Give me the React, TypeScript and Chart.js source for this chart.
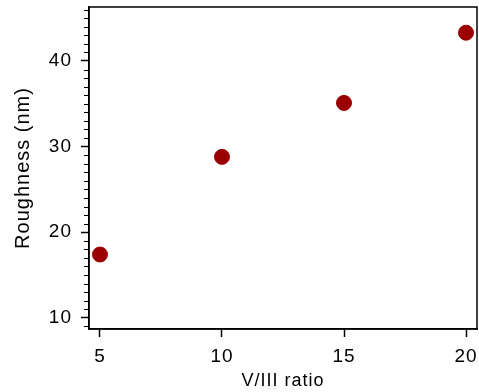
import React, { useEffect, useRef } from "react";
import { Chart, registerables } from "chart.js";

Chart.register(...registerables);

const ratios = [5, 10, 15, 20];
const roughness = [17.4, 28.8, 35.1, 43.3];
const xTicks = [5, 10, 15, 20];
const yTicks = [10, 20, 30, 40];
const yMinorTicks = [9, 11, 12, 13, 14, 15, 16, 17, 18, 19, 21, 22, 23, 24, 25, 26, 27, 28, 29, 31, 32, 33, 34, 35, 36, 37, 38, 39, 41, 42, 43, 44, 45, 46];

const FONT = "'Liberation Sans', Arial, Helvetica, sans-serif";

const spacing = {
  id: "spacing",
  beforeLayout(chart: any) {
    chart.ctx.letterSpacing = "1px";
  },
  beforeDraw(chart: any) {
    chart.ctx.letterSpacing = "1px";
  },
};

const frame = {
  id: "frame",
  afterDraw(chart: any) {
    const { ctx, chartArea } = chart;
    const ys = chart.scales.y;
    ctx.save();
    ctx.strokeStyle = "#000";
    ctx.lineWidth = 1.5;
    ctx.strokeRect(chartArea.left, chartArea.top, chartArea.right - chartArea.left, chartArea.bottom - chartArea.top);
    ctx.lineWidth = 1.2;
    ctx.beginPath();
    for (const v of yMinorTicks) {
      if (v < ys.min || v > ys.max) continue;
      const py = Math.round(ys.getPixelForValue(v)) + 0.5;
      ctx.moveTo(chartArea.left, py);
      ctx.lineTo(chartArea.left - 5, py);
    }
    ctx.stroke();
    ctx.restore();
  },
};

const noPad = (s: any) => {
  s.paddingTop = 0;
  s.paddingBottom = 0;
  s.paddingLeft = 0;
  s.paddingRight = 0;
  if (s._margins) {
    s._margins.left = 0;
    s._margins.right = 0;
    s._margins.top = 0;
    s._margins.bottom = 0;
  }
};

export default function App() {
  const ref = useRef<HTMLCanvasElement>(null);
  useEffect(() => {
    document.body.style.margin = "0";
    const chart = new Chart(ref.current!, {
      type: "scatter",
      data: {
        datasets: [
          {
            data: ratios.map((x, i) => ({ x, y: roughness[i] })),
            backgroundColor: "#9b0000",
            borderColor: "#9b0000",
            pointRadius: 7.5,
            pointHoverRadius: 7.5,
          },
        ],
      },
      options: {
        animation: false,
        responsive: false,
        devicePixelRatio: 1,
        layout: { autoPadding: false, padding: { left: 0, top: 7, right: 2, bottom: 0 } },
        plugins: { legend: { display: false }, tooltip: { enabled: false } },
        scales: {
          x: {
            type: "linear",
            min: 4.55,
            max: 20.45,
            afterBuildTicks: (s: any) => {
              s.ticks = xTicks.map((v) => ({ value: v }));
            },
            afterFit: (s: any) => {
              s.height = 63;
              noPad(s);
            },
            grid: { drawOnChartArea: false, drawTicks: true, tickLength: 8, color: "#000", tickWidth: 1.5 },
            border: { display: true, color: "#000", width: 1.5 },
            ticks: { color: "#000", font: { family: FONT, size: 19 }, padding: 8, maxRotation: 0 },
            title: {
              display: true,
              text: "V/III ratio",
              color: "#000",
              font: { family: FONT, size: 18 },
              padding: { top: 0, bottom: 0 },
            },
          },
          y: {
            type: "linear",
            min: 8.7,
            max: 46.3,
            afterBuildTicks: (s: any) => {
              s.ticks = yTicks.map((v) => ({ value: v }));
            },
            afterFit: (s: any) => {
              s.width = 89;
              noPad(s);
            },
            grid: { drawOnChartArea: false, drawTicks: true, tickLength: 8, color: "#000", tickWidth: 1.5 },
            border: { display: true, color: "#000", width: 1.5 },
            ticks: { color: "#000", font: { family: FONT, size: 19 }, padding: 9 },
            title: {
              display: true,
              text: "Roughness (nm)",
              color: "#000",
              font: { family: FONT, size: 20 },
              padding: { top: 11, bottom: 0 },
            },
          },
        },
      },
      plugins: [spacing, frame],
    } as any);
    return () => chart.destroy();
  }, []);
  return (
    <div style={{ position: "absolute", left: 0, top: 0, width: 479, height: 392 }}>
      <canvas ref={ref} width={479} height={392} style={{ display: "block" }} />
    </div>
  );
}
